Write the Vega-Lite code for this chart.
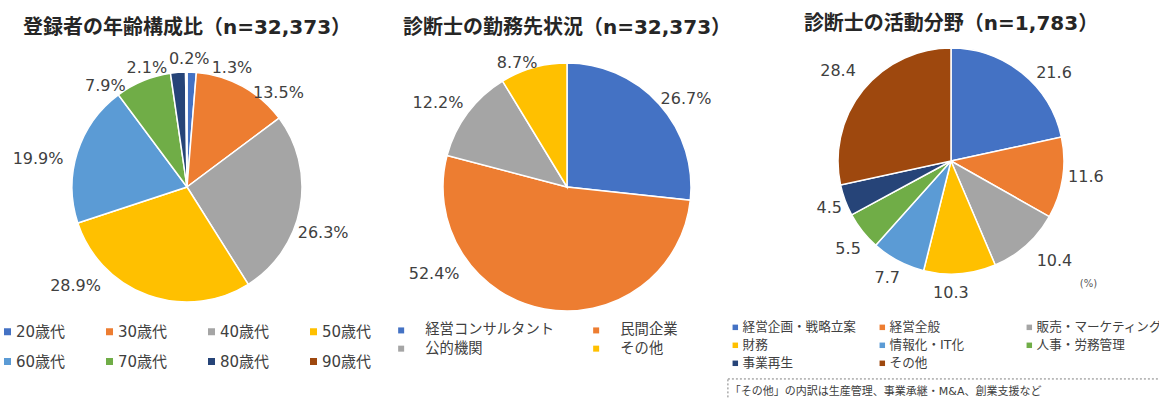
{
  "$schema": "https://vega.github.io/schema/vega-lite/v6.json",
  "background": "white",
  "padding": {"left": 0, "top": 14, "right": 0, "bottom": 0},
  "bounds": "flush",
  "spacing": 32,
  "resolve": {"scale": {"color": "independent", "theta": "independent", "x": "independent", "y": "independent"}, "legend": {"color": "independent"}},
  "config": {
    "view": {"stroke": null},
    "title": {"font": "'DejaVu Sans', 'Noto Sans CJK JP'", "fontSize": 20, "fontWeight": "bold", "color": "#262626", "anchor": "middle", "frame": "group", "offset": 11},
    "text": {"font": "DejaVu Sans", "fontSize": 16, "color": "#404040", "align": "center", "baseline": "middle"},
    "legend": {"orient": "none", "direction": "horizontal", "symbolType": "square", "symbolStrokeWidth": 0, "labelFont": "'DejaVu Sans', 'Noto Sans CJK JP'", "labelColor": "#404040", "padding": 0, "gridAlign": "all", "labelLimit": 400}
  },
  "hconcat": [
    {
      "width": 374,
      "height": 276,
      "title": "登録者の年齢構成比（n=32,373）",
      "data": {"values": [
        {"k": "20歳代", "v": 0.013, "i": 1},
        {"k": "30歳代", "v": 0.135, "i": 2},
        {"k": "40歳代", "v": 0.263, "i": 3},
        {"k": "50歳代", "v": 0.289, "i": 4},
        {"k": "60歳代", "v": 0.199, "i": 5},
        {"k": "70歳代", "v": 0.079, "i": 6},
        {"k": "80歳代", "v": 0.021, "i": 7},
        {"k": "90歳代", "v": 0.002, "i": 8}
      ]},
      "transform": [{"stack": "v", "groupby": [], "sort": [{"field": "i", "order": "ascending"}], "as": ["s0", "s1"]}],
      "layer": [
        {"mark": {"type": "arc", "outerRadius": 115, "stroke": "white", "strokeWidth": 1.5},
         "encoding": {
           "theta": {"field": "s1", "type": "quantitative", "stack": null},
           "theta2": {"field": "s0"},
           "color": {"field": "k", "type": "nominal",
             "scale": {"domain": ["20歳代", "30歳代", "40歳代", "50歳代", "60歳代", "70歳代", "80歳代", "90歳代"], "range": ["#4472C4", "#ED7D31", "#A5A5A5", "#FFC000", "#5B9BD5", "#70AD47", "#264478", "#9E480E"]},
             "legend": {"title": null, "legendX": 0, "legendY": 275, "columns": 4, "symbolSize": 49, "labelFontSize": 15, "labelOffset": 1, "rowPadding": 14, "columnPadding": 36}}}},
        {"transform": [{"filter": "datum.k==='20歳代'"}], "mark": {"type": "text", "radius": 140, "dx": 45, "dy": 21}, "encoding": {"theta": {"field": "s0", "type": "quantitative", "stack": null}, "text": {"field": "v", "type": "quantitative", "format": ".1%"}}},
        {"transform": [{"filter": "datum.k==='30歳代'"}], "mark": {"type": "text", "radius": 140, "dx": 80, "dy": 46}, "encoding": {"theta": {"field": "s0", "type": "quantitative", "stack": null}, "text": {"field": "v", "type": "quantitative", "format": ".1%"}}},
        {"transform": [{"filter": "datum.k==='40歳代'"}], "mark": {"type": "text", "radius": 140, "dx": 24, "dy": 130}, "encoding": {"theta": {"field": "s0", "type": "quantitative", "stack": null}, "text": {"field": "v", "type": "quantitative", "format": ".1%"}}},
        {"transform": [{"filter": "datum.k==='50歳代'"}], "mark": {"type": "text", "radius": 140, "dx": -186, "dy": -19}, "encoding": {"theta": {"field": "s0", "type": "quantitative", "stack": null}, "text": {"field": "v", "type": "quantitative", "format": ".1%"}}},
        {"transform": [{"filter": "datum.k==='60歳代'"}], "mark": {"type": "text", "radius": 140, "dx": -16, "dy": -72}, "encoding": {"theta": {"field": "s0", "type": "quantitative", "stack": null}, "text": {"field": "v", "type": "quantitative", "format": ".1%"}}},
        {"transform": [{"filter": "datum.k==='70歳代'"}], "mark": {"type": "text", "radius": 140, "dx": 2, "dy": 11}, "encoding": {"theta": {"field": "s0", "type": "quantitative", "stack": null}, "text": {"field": "v", "type": "quantitative", "format": ".1%"}}},
        {"transform": [{"filter": "datum.k==='80歳代'"}], "mark": {"type": "text", "radius": 140, "dx": -20, "dy": 20}, "encoding": {"theta": {"field": "s0", "type": "quantitative", "stack": null}, "text": {"field": "v", "type": "quantitative", "format": ".1%"}}},
        {"transform": [{"filter": "datum.k==='90歳代'"}], "mark": {"type": "text", "radius": 140, "dx": 4, "dy": 12}, "encoding": {"theta": {"field": "s0", "type": "quantitative", "stack": null}, "text": {"field": "v", "type": "quantitative", "format": ".1%"}}}
      ]
    },
    {
      "width": 322,
      "height": 276,
      "title": "診断士の勤務先状況（n=32,373）",
      "data": {"values": [
        {"k": "経営コンサルタント", "v": 0.267, "i": 1},
        {"k": "民間企業", "v": 0.524, "i": 2},
        {"k": "公的機関", "v": 0.122, "i": 3},
        {"k": "その他", "v": 0.087, "i": 4}
      ]},
      "transform": [{"stack": "v", "groupby": [], "sort": [{"field": "i", "order": "ascending"}], "as": ["s0", "s1"]}],
      "layer": [
        {"mark": {"type": "arc", "outerRadius": 124, "stroke": "white", "strokeWidth": 1.5},
         "encoding": {
           "theta": {"field": "s1", "type": "quantitative", "stack": null},
           "theta2": {"field": "s0"},
           "color": {"field": "k", "type": "nominal",
             "scale": {"domain": ["経営コンサルタント", "民間企業", "公的機関", "その他"], "range": ["#4472C4", "#ED7D31", "#A5A5A5", "#FFC000"]},
             "legend": {"title": null, "legendX": -12, "legendY": 274, "columns": 2, "symbolSize": 36, "labelFontSize": 14.3, "labelOffset": 17, "rowPadding": 3.5, "columnPadding": 35}}}},
        {"transform": [{"filter": "datum.k==='経営コンサルタント'"}], "mark": {"type": "text", "radius": 150, "dx": 119, "dy": 62}, "encoding": {"theta": {"field": "s0", "type": "quantitative", "stack": null}, "text": {"field": "v", "type": "quantitative", "format": ".1%"}}},
        {"transform": [{"filter": "datum.k==='民間企業'"}], "mark": {"type": "text", "radius": 150, "dx": -282, "dy": 71}, "encoding": {"theta": {"field": "s0", "type": "quantitative", "stack": null}, "text": {"field": "v", "type": "quantitative", "format": ".1%"}}},
        {"transform": [{"filter": "datum.k==='公的機関'"}], "mark": {"type": "text", "radius": 150, "dx": 16, "dy": -46}, "encoding": {"theta": {"field": "s0", "type": "quantitative", "stack": null}, "text": {"field": "v", "type": "quantitative", "format": ".1%"}}},
        {"transform": [{"filter": "datum.k==='その他'"}], "mark": {"type": "text", "radius": 150, "dx": 28, "dy": 4}, "encoding": {"theta": {"field": "s0", "type": "quantitative", "stack": null}, "text": {"field": "v", "type": "quantitative", "format": ".1%"}}}
      ]
    },
    {
      "width": 382,
      "height": 224,
      "title": "診断士の活動分野（n=1,783）",
      "layer": [
        {
          "data": {"values": [
            {"k": "経営企画・戦略立案", "v": 21.6, "i": 1},
            {"k": "経営全般", "v": 11.6, "i": 2},
            {"k": "販売・マーケティング", "v": 10.4, "i": 3},
            {"k": "財務", "v": 10.3, "i": 4},
            {"k": "情報化・IT化", "v": 7.7, "i": 5},
            {"k": "人事・労務管理", "v": 5.5, "i": 6},
            {"k": "事業再生", "v": 4.5, "i": 7},
            {"k": "その他", "v": 28.4, "i": 8}
          ]},
          "transform": [{"stack": "v", "groupby": [], "sort": [{"field": "i", "order": "ascending"}], "as": ["s0", "s1"]}],
          "layer": [
            {"mark": {"type": "arc", "outerRadius": 113, "stroke": "white", "strokeWidth": 1.5},
             "encoding": {
               "theta": {"field": "s1", "type": "quantitative", "stack": null},
               "theta2": {"field": "s0"},
               "color": {"field": "k", "type": "nominal",
                 "scale": {"domain": ["経営企画・戦略立案", "経営全般", "販売・マーケティング", "財務", "情報化・IT化", "人事・労務管理", "事業再生", "その他"], "range": ["#4472C4", "#ED7D31", "#A5A5A5", "#FFC000", "#5B9BD5", "#70AD47", "#264478", "#9E480E"]},
                 "legend": {"title": null, "legendX": -31, "legendY": 272, "columns": 3, "symbolSize": 30, "labelFontSize": 12.6, "labelOffset": 1, "rowPadding": 5, "columnPadding": 7}}}},
            {"transform": [{"filter": "datum.k==='経営企画・戦略立案'"}], "mark": {"type": "text", "radius": 135, "dx": 103, "dy": 47}, "encoding": {"theta": {"field": "s0", "type": "quantitative", "stack": null}, "text": {"field": "v", "type": "quantitative", "format": ".1f"}}},
            {"transform": [{"filter": "datum.k==='経営全般'"}], "mark": {"type": "text", "radius": 135, "dx": 3, "dy": 45}, "encoding": {"theta": {"field": "s0", "type": "quantitative", "stack": null}, "text": {"field": "v", "type": "quantitative", "format": ".1f"}}},
            {"transform": [{"filter": "datum.k==='販売・マーケティング'"}], "mark": {"type": "text", "radius": 135, "dx": -14, "dy": 33}, "encoding": {"theta": {"field": "s0", "type": "quantitative", "stack": null}, "text": {"field": "v", "type": "quantitative", "format": ".1f"}}},
            {"transform": [{"filter": "datum.k==='財務'"}], "mark": {"type": "text", "radius": 135, "dx": -53, "dy": 8}, "encoding": {"theta": {"field": "s0", "type": "quantitative", "stack": null}, "text": {"field": "v", "type": "quantitative", "format": ".1f"}}},
            {"transform": [{"filter": "datum.k==='情報化・IT化'"}], "mark": {"type": "text", "radius": 135, "dx": -31, "dy": -14}, "encoding": {"theta": {"field": "s0", "type": "quantitative", "stack": null}, "text": {"field": "v", "type": "quantitative", "format": ".1f"}}},
            {"transform": [{"filter": "datum.k==='人事・労務管理'"}], "mark": {"type": "text", "radius": 135, "dx": -13, "dy": -13}, "encoding": {"theta": {"field": "s0", "type": "quantitative", "stack": null}, "text": {"field": "v", "type": "quantitative", "format": ".1f"}}},
            {"transform": [{"filter": "datum.k==='事業再生'"}], "mark": {"type": "text", "radius": 135, "dx": -3, "dy": -17}, "encoding": {"theta": {"field": "s0", "type": "quantitative", "stack": null}, "text": {"field": "v", "type": "quantitative", "format": ".1f"}}},
            {"transform": [{"filter": "datum.k==='その他'"}], "mark": {"type": "text", "radius": 135, "dx": 19, "dy": -119}, "encoding": {"theta": {"field": "s0", "type": "quantitative", "stack": null}, "text": {"field": "v", "type": "quantitative", "format": ".1f"}}}
          ]
        },
        {
          "data": {"values": [{"t": "(%)"}]},
          "mark": {"type": "text", "font": "'DejaVu Sans', 'Noto Sans CJK JP'", "fontSize": 10, "color": "#595959"},
          "encoding": {
            "text": {"field": "t", "type": "nominal"},
            "x": {"datum": 0.86, "type": "quantitative", "scale": {"domain": [0, 1]}, "axis": null},
            "y": {"datum": -0.05, "type": "quantitative", "scale": {"domain": [0, 1]}, "axis": null}
          }
        },
        {
          "data": {"values": [{"t": "「その他」の内訳は生産管理、事業承継・M&A、創業支援など"}]},
          "mark": {"type": "rect", "fill": null, "stroke": "#808080", "strokeDash": [2, 2], "strokeWidth": 1},
          "encoding": {
            "x": {"datum": -0.084, "type": "quantitative"},
            "x2": {"datum": 1.1},
            "y": {"datum": -0.473, "type": "quantitative"},
            "y2": {"datum": -0.62}
          }
        },
        {
          "data": {"values": [{"t": "「その他」の内訳は生産管理、事業承継・M&A、創業支援など"}]},
          "mark": {"type": "text", "align": "left", "font": "'DejaVu Sans', 'Noto Sans CJK JP'", "fontSize": 11, "color": "#404040"},
          "encoding": {
            "text": {"field": "t", "type": "nominal"},
            "x": {"datum": -0.079, "type": "quantitative"},
            "y": {"datum": -0.531, "type": "quantitative"}
          }
        }
      ]
    }
  ]
}
